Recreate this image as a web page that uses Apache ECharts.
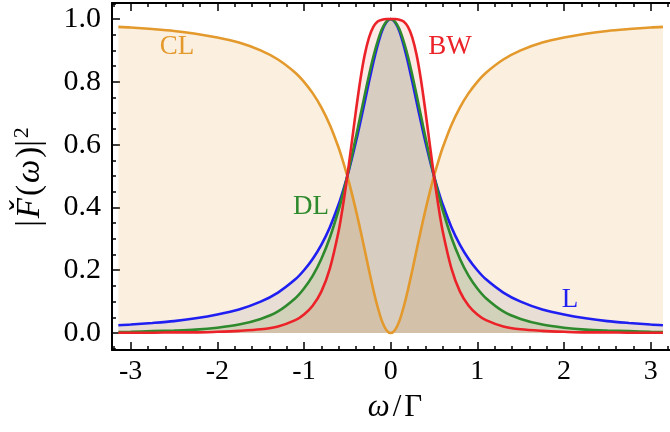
<!DOCTYPE html>
<html><head><meta charset="utf-8">
<script src="https://cdn.jsdelivr.net/npm/echarts@6/dist/echarts.min.js"></script>
<style>html,body{margin:0;padding:0;background:#fff}#c{width:670px;height:432px}</style>
</head><body><div id="c"></div>
<script>
// omega / Gamma sample points
const omega = [-3.1416,-3,-2.75,-2.5,-2.25,-2,-1.75,-1.5,-1.3,-1.1,-1,-0.9,-0.8,-0.7,-0.6,-0.55,-0.5,-0.45,-0.4,-0.35,-0.3,-0.25,-0.2,-0.15,-0.1,-0.05,
  0,0.05,0.1,0.15,0.2,0.25,0.3,0.35,0.4,0.45,0.5,0.55,0.6,0.7,0.8,0.9,1,1.1,1.3,1.5,1.75,2,2.25,2.5,2.75,3,3.1416];
const valL = [0.025,0.027,0.032,0.038,0.047,0.059,0.075,0.100,0.129,0.171,0.200,0.236,0.281,0.338,0.410,0.453,0.500,0.553,0.610,0.671,0.735,0.800,0.862,0.917,0.962,0.990,
  1.000,0.990,0.962,0.917,0.862,0.800,0.735,0.671,0.610,0.553,0.500,0.453,0.410,0.338,0.281,0.236,0.200,0.171,0.129,0.100,0.075,0.059,0.047,0.038,0.032,0.027,0.025];
const valCL = [0.975,0.973,0.968,0.962,0.953,0.941,0.925,0.900,0.871,0.829,0.800,0.764,0.719,0.662,0.590,0.547,0.500,0.447,0.390,0.329,0.265,0.200,0.138,0.083,0.038,0.010,
  0.000,0.010,0.038,0.083,0.138,0.200,0.265,0.329,0.390,0.447,0.500,0.547,0.590,0.662,0.719,0.764,0.800,0.829,0.871,0.900,0.925,0.941,0.953,0.962,0.968,0.973,0.975];
const valDL = [0.003,0.004,0.006,0.008,0.011,0.017,0.027,0.045,0.069,0.111,0.142,0.182,0.236,0.305,0.392,0.444,0.500,0.561,0.625,0.691,0.757,0.821,0.880,0.929,0.968,0.992,
  1.000,0.992,0.968,0.929,0.880,0.821,0.757,0.691,0.625,0.561,0.500,0.444,0.392,0.305,0.236,0.182,0.142,0.111,0.069,0.045,0.027,0.017,0.011,0.008,0.006,0.004,0.003];
const valBW = [0.001,0.001,0.001,0.002,0.002,0.004,0.007,0.012,0.021,0.041,0.059,0.087,0.132,0.207,0.325,0.406,0.500,0.604,0.709,0.806,0.885,0.941,0.975,0.992,0.998,1.000,
  1.000,1.000,0.998,0.992,0.975,0.941,0.885,0.806,0.709,0.604,0.500,0.406,0.325,0.207,0.132,0.087,0.059,0.041,0.021,0.012,0.007,0.004,0.002,0.002,0.001,0.001,0.001];

const xTickLabels = [-3,-2,-1,0,1,2,3];
const yTickLabels = [0,0.2,0.4,0.6,0.8,1.0];
const xMinorStep = 0.2, yMinorStep = 0.05;
const xMinor = []; for (let i = -16; i <= 16; i++) xMinor.push(+(i * xMinorStep).toFixed(2));
const yMinor = []; for (let i = -1; i <= 21; i++) yMinor.push(+(i * yMinorStep).toFixed(2));

const curveNames = ['CL','L','DL','BW'];
const curveVals = [valCL, valL, valDL, valBW];
const lineColors = ['#E3992B','#1F1FF2','#2E8A2C','#EC2229'];
const fillColors = ['rgba(227,150,40,0.21)','rgba(100,100,150,0.17)','rgba(70,140,30,0.2)','rgba(236,60,30,0.15)'];

const FONT = 'Liberation Serif';
const XMIN = -3.215, XMAX = 3.223, YMIN = -0.054, YMAX = 1.051;

function xAx(pos, ticks, len, showLine, labels) {
  return {
    type: 'value', position: pos, min: XMIN, max: XMAX,
    axisLine: {show: showLine, onZero: false, lineStyle: {color: '#000', width: 2}},
    axisTick: {show: true, inside: true, length: len, customValues: ticks, lineStyle: {color: '#000', width: 1.5}},
    axisLabel: labels ? {show: true, customValues: xTickLabels, formatter: v => String(v), fontFamily: FONT, fontSize: 28, color: '#000', margin: 8} : {show: false},
    splitLine: {show: false}
  };
}
function yAx(ticks, len, showLine, labels) {
  return {
    type: 'value', position: 'left', min: YMIN, max: YMAX,
    axisLine: {show: showLine, onZero: false, lineStyle: {color: '#000', width: 2}},
    axisTick: {show: true, inside: true, length: len, customValues: ticks, lineStyle: {color: '#000', width: 1.5}},
    axisLabel: labels ? {show: true, customValues: yTickLabels, formatter: v => v.toFixed(1), fontFamily: FONT, fontSize: 30, color: '#000', margin: 11} : {show: false},
    splitLine: {show: false}
  };
}

const series = [];
curveNames.forEach((n, i) => {
  series.push({
    name: n + '_fill', type: 'line', xAxisIndex: 0, yAxisIndex: 0,
    data: omega.map((x, k) => [x, curveVals[i][k]]),
    showSymbol: false, smooth: 0.3, silent: true,
    lineStyle: {width: 0, opacity: 0},
    areaStyle: {color: fillColors[i], origin: 0},
    z: 2
  });
});
curveNames.forEach((n, i) => {
  series.push({
    name: n, type: 'line', xAxisIndex: 0, yAxisIndex: 0,
    data: omega.map((x, k) => [x, curveVals[i][k]]),
    showSymbol: false, smooth: 0.3, silent: true,
    lineStyle: {width: 2.6, color: lineColors[i]},
    z: 3
  });
});

const LBL = '27px "Liberation Serif"';
const chart = echarts.init(document.getElementById('c'), null, {renderer: 'canvas'});
chart.setOption({
  animation: false,
  backgroundColor: '#fff',
  grid: {left: 112, top: 3, width: 564, height: 347, containLabel: false},
  xAxis: [
    xAx('bottom', xMinor, 4, true, true),
    xAx('bottom', xTickLabels, 8, false, false),
    xAx('top', xMinor, 4, true, false),
    xAx('top', xTickLabels, 8, false, false)
  ],
  yAxis: [
    yAx(yTickLabels, 8, true, true),
    yAx(yMinor, 4, false, false)
  ],
  series: series,
  graphic: [
    {type: 'text', x: 177, y: 47, style: {text: 'CL', fill: lineColors[0], font: LBL, align: 'center', verticalAlign: 'middle'}, z: 10},
    {type: 'text', x: 450, y: 47, style: {text: 'BW', fill: lineColors[3], font: LBL, align: 'center', verticalAlign: 'middle'}, z: 10},
    {type: 'text', x: 311, y: 207, style: {text: 'DL', fill: lineColors[2], font: LBL, align: 'center', verticalAlign: 'middle'}, z: 10},
    {type: 'text', x: 570, y: 300, style: {text: 'L', fill: lineColors[1], font: LBL, align: 'center', verticalAlign: 'middle'}, z: 10},
    {type: 'text', x: 395, y: 408, style: {
      text: '{i|ω}{n|/}{n|Γ}', align: 'center', verticalAlign: 'middle',
      rich: {i: {fontFamily: FONT, fontStyle: 'italic', fontSize: 31, fill: '#000'}, n: {fontFamily: FONT, fontSize: 31, fill: '#000', padding: [0, 0, 0, 3]}}
    }, z: 10},
    {type: 'text', x: 30, y: 177, rotation: Math.PI / 2, style: {
      text: '{n||}{i|F\u030C}{n|(}{i|ω}{n|)|}{s|2}', align: 'center', verticalAlign: 'middle',
      rich: {
        i: {fontFamily: FONT, fontStyle: 'italic', fontSize: 33, fill: '#000', padding: [0, 2, 0, 2]},
        n: {fontFamily: FONT, fontSize: 33, fill: '#000'},
        s: {fontFamily: FONT, fontSize: 22, fill: '#000', verticalAlign: 'top', padding: [0, 0, 16, 2]}
      }
    }, z: 10}
  ]
});
</script></body></html>
